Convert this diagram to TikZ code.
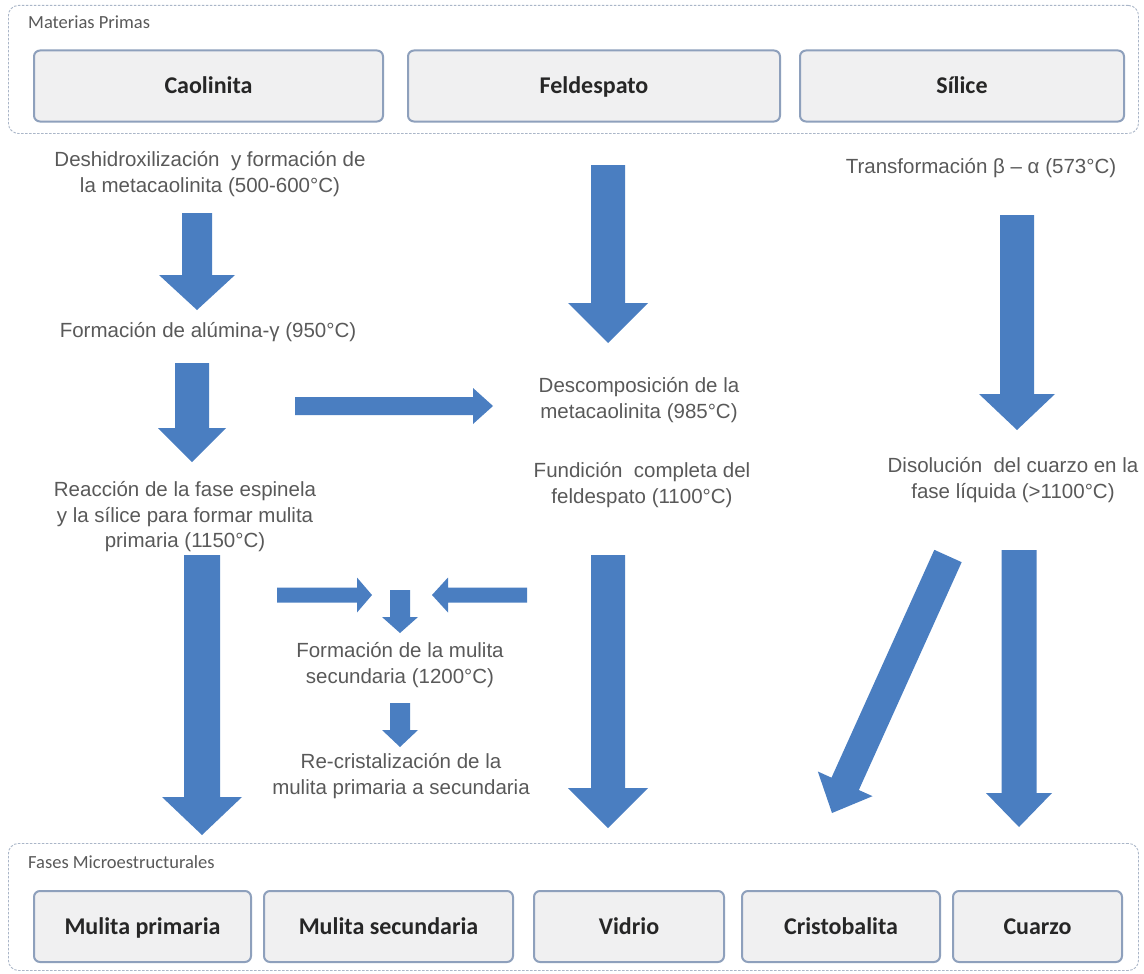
\documentclass[tikz,border=0pt]{standalone}
\usepackage{fontspec}
\setmainfont{Liberation Sans}
\newfontfamily\lblfont{Carlito}
\usetikzlibrary{calc}
\definecolor{arrowblue}{RGB}{74,126,193}
\definecolor{txtgray}{RGB}{89,89,89}
\definecolor{boxedge}{RGB}{142,160,188}
\definecolor{boxfill}{RGB}{240,240,241}
\definecolor{groupedge}{RGB}{170,182,200}
\tikzset{
  group/.style={draw=groupedge, line width=0.9pt, dash pattern=on 2.5pt off 1.5pt,
    rounded corners=10pt, fill=white, inner sep=0pt, anchor=north west},
  grouptitle/.style={anchor=west, inner sep=0pt, text=txtgray,
    font=\lblfont\fontsize{18.5}{22}\selectfont},
  phase/.style={draw=boxedge, line width=2pt, rounded corners=6pt, fill=boxfill,
    inner sep=0pt, minimum height=71pt, text=black!85, text height=18.5pt, text depth=3pt,
    font=\lblfont\bfseries\fontsize{24}{28}\selectfont},
  step text/.style={align=center, inner sep=0pt, text=txtgray,
    font=\fontsize{20.5}{25.5}\selectfont},
  arrowfill/.style={fill=arrowblue},
}
% block arrow: tail, tip, half shaft width, half head width, head length
\newcommand\blockarrow[5]{%
  \coordinate (ba-base) at ($(#2)!#5!(#1)$);
  \fill[arrowfill] ($(#1)!#3!90:(#2)$) -- ($(ba-base)!#3!90:(#2)$)
    -- ($(ba-base)!#4!90:(#2)$) -- (#2) -- ($(ba-base)!#4!-90:(#2)$)
    -- ($(ba-base)!#3!-90:(#2)$) -- ($(#1)!#3!-90:(#2)$) -- cycle;}
\begin{document}
\begin{tikzpicture}[x=1pt,y=-1pt]
\useasboundingbox (0,0) rectangle (1144,974);

% raw materials group
\node[group, minimum width=1130pt, minimum height=128pt] (raw) at (8,5) {};
\node[grouptitle] (rawtitle) at (28,22) {Materias Primas};
\node[phase, minimum width=349pt] (caol) at (208.5,86) {Caolinita};
\node[phase, minimum width=372pt] (feld) at (594,86) {Feldespato};
\node[phase, minimum width=324pt] (sil) at (962,86) {Sílice};

% microstructural phases group
\node[group, minimum width=1130pt, minimum height=127pt] (phases) at (8,843) {};
\node[grouptitle] (phtitle) at (28,862) {Fases Microestructurales};
\node[phase, minimum width=217pt] (mp) at (142.5,926.5) {Mulita primaria};
\node[phase, minimum width=249pt] (ms) at (388.5,926.5) {Mulita secundaria};
\node[phase, minimum width=190pt] (vid) at (629,926.5) {Vidrio};
\node[phase, minimum width=198pt] (cri) at (841,926.5) {Cristobalita};
\node[phase, minimum width=169pt] (cua) at (1037.5,926.5) {Cuarzo};

% reaction steps
\node[step text] (s1) at (210,174) {Deshidroxilización~ y formación de\\la metacaolinita (500-600°C)};
\node[step text] (s2) at (208,332) {Formación de alúmina-γ (950°C)};
\node[step text] (s3) at (639,400) {Descomposición de la\\metacaolinita (985°C)};
\node[step text] (s4) at (642,485) {Fundición~ completa del\\feldespato (1100°C)};
\node[step text] (s5) at (981,168) {Transformación β – α (573°C)};
\node[step text] (s6) at (1013,480) {Disolución~ del cuarzo en la\\fase líquida (>1100°C)};
\node[step text] (s7) at (185,517) {Reacción de la fase espinela\\y la sílice para formar mulita\\primaria (1150°C)};
\node[step text] (s8) at (400,665) {Formación de la mulita\\secundaria (1200°C)};
\node[step text] (s9) at (401,776) {Re-cristalización de la\\mulita primaria a secundaria};

% arrow end points
\coordinate (a1t) at (197,213);  \coordinate (a1h) at (197,310);
\coordinate (a2t) at (192,363);  \coordinate (a2h) at (192,462);
\coordinate (a3t) at (202,555);  \coordinate (a3h) at (202,835);
\coordinate (a4t) at (295,406);  \coordinate (a4h) at (493,406);
\coordinate (a5t) at (608,165);  \coordinate (a5h) at (608,343);
\coordinate (a6t) at (608,555);  \coordinate (a6h) at (608,828);
\coordinate (a7t) at (1017,215); \coordinate (a7h) at (1017,430);
\coordinate (a8t) at (1019,550); \coordinate (a8h) at (1019,827);
\coordinate (a9t) at (948,556);  \coordinate (a9h) at (832,813);
\coordinate (a10t) at (277,595); \coordinate (a10h) at (372,595);
\coordinate (a11t) at (527,595); \coordinate (a11h) at (432,595);
\coordinate (a12t) at (400,590); \coordinate (a12h) at (400,633);
\coordinate (a13t) at (400,703); \coordinate (a13h) at (400,747);

\blockarrow{a1t}{a1h}{15pt}{38pt}{35pt}
\blockarrow{a2t}{a2h}{17pt}{34pt}{34pt}
\blockarrow{a3t}{a3h}{18pt}{40pt}{38pt}
\blockarrow{a4t}{a4h}{9pt}{18pt}{20pt}
\blockarrow{a5t}{a5h}{17pt}{40pt}{40pt}
\blockarrow{a6t}{a6h}{17pt}{40pt}{40pt}
\blockarrow{a7t}{a7h}{17pt}{38pt}{36pt}
\blockarrow{a8t}{a8h}{17.5pt}{33pt}{34pt}
\blockarrow{a9t}{a9h}{15pt}{30pt}{32pt}
\blockarrow{a10t}{a10h}{7.5pt}{17.5pt}{15pt}
\blockarrow{a11t}{a11h}{7.5pt}{17.5pt}{16pt}
\blockarrow{a12t}{a12h}{10pt}{18pt}{16pt}
\blockarrow{a13t}{a13h}{10pt}{18pt}{17pt}
\end{tikzpicture}
\end{document}
